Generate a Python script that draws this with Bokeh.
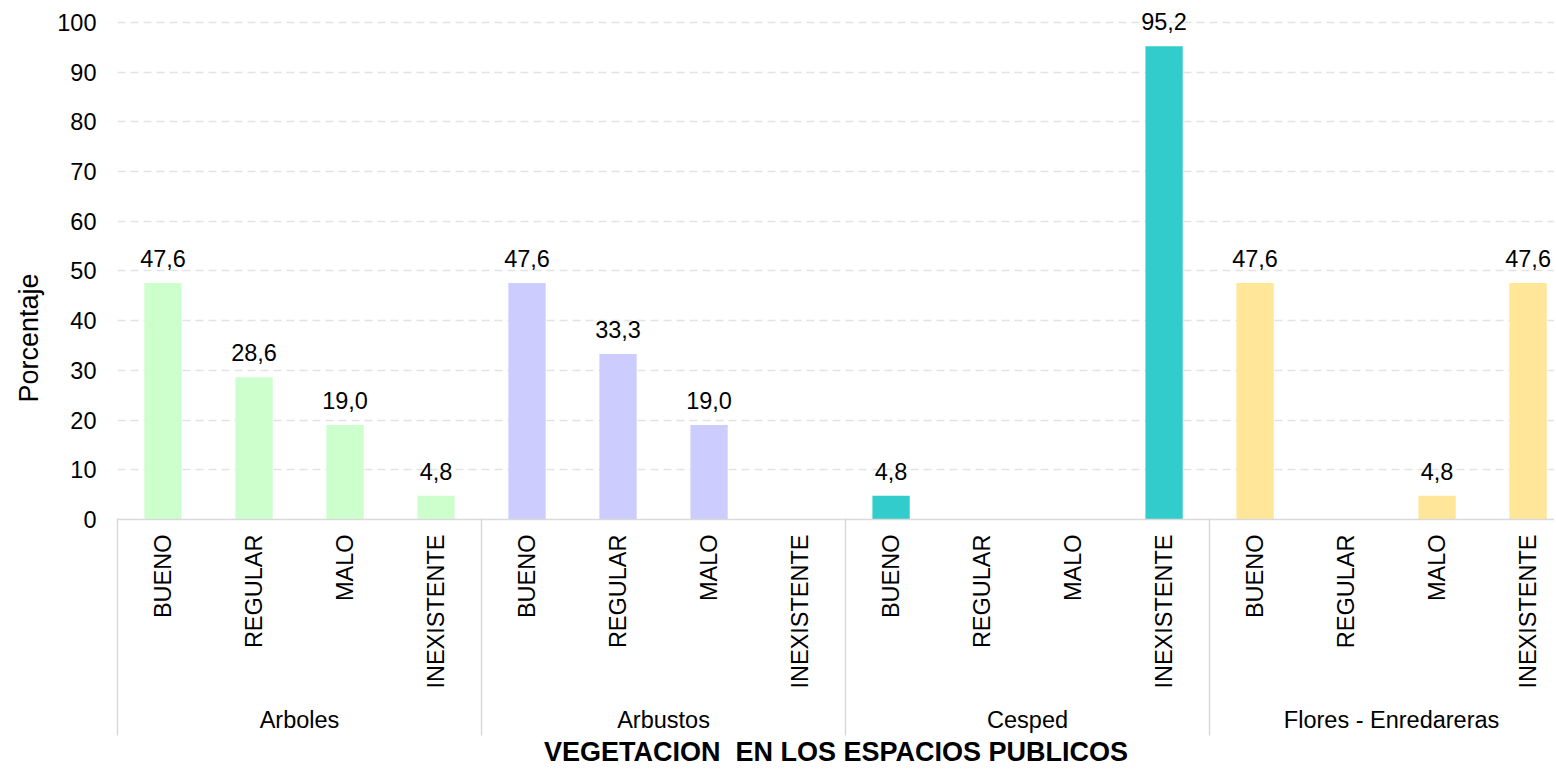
import math
from bokeh.plotting import figure
from bokeh.models import Range1d, LinearAxis, FixedTicker, ColumnDataSource, LabelSet, Title
from bokeh.core.properties import value
from bokeh.embed import file_html
from bokeh.resources import INLINE

groups = ["Arboles", "Arbustos", "Cesped", "Flores - Enredareras"]
states = ["BUENO", "REGULAR", "MALO", "INEXISTENTE"]
arboles = [47.6, 28.6, 19.0, 4.8]
arbustos = [47.6, 33.3, 19.0, 0.0]
cesped = [4.8, 0.0, 0.0, 95.2]
flores = [47.6, 0.0, 4.8, 47.6]
group_colors = ["#CCFFCC", "#CCCCFF", "#33CCCC", "#FFE699"]
y_ticks = list(range(0, 101, 10))
x_title = "VEGETACION \u00a0EN LOS ESPACIOS PUBLICOS"
y_title = "Porcentaje"

FONT = "Liberation Sans"
FS = "23.5px"
FS_TITLE = "27px"
series = [arboles, arbustos, cesped, flores]
n_sub = len(states)

xs, tops, colors, sub_labels = [], [], [], {}
for g, vals in enumerate(series):
    for s, v in enumerate(vals):
        i = g * n_sub + s
        xs.append(i)
        tops.append(v)
        colors.append(group_colors[g])
        sub_labels[i] = states[s]

group_centers = [g * n_sub + (n_sub - 1) / 2 for g in range(len(groups))]
group_bounds = [g * n_sub - 0.5 for g in range(len(groups))]

# y range runs a little above 100 so the value labels are not clipped
p = figure(frame_width=1437, frame_height=512,
           x_range=Range1d(-0.5, 15.29), y_range=Range1d(0, 103),
           x_axis_type=None, output_backend="svg", toolbar_location=None,
           min_border_left=117, min_border_top=7, min_border_right=0,
           min_border_bottom=10)
p.outline_line_color = None
p.background_fill_color = "white"

p.vbar(x=xs, top=tops, width=0.41, bottom=0, fill_color=colors, line_color=None)

lab_x = [x for x, t in zip(xs, tops) if t > 0]
lab_y = [t for t in tops if t > 0]
lab_t = [f"{t:.1f}".replace(".", ",") for t in lab_y]
src = ColumnDataSource(dict(x=lab_x, y=lab_y, t=lab_t))
p.add_layout(LabelSet(x="x", y="y", text="t", source=src, text_align="center",
                      text_baseline="alphabetic", y_offset=16,
                      text_font=value(FONT), text_font_size=value(FS),
                      text_color="#000000"))

yax = p.yaxis[0]
yax.ticker = FixedTicker(ticks=y_ticks)
yax.axis_line_color = None
yax.major_tick_line_color = None
yax.minor_tick_line_color = None
yax.major_label_standoff = 15
yax.major_label_text_font = FONT
yax.major_label_text_font_size = FS
yax.major_label_text_color = "#000000"

# y-axis title, placed lower than the frame centre as in the reference
p.add_layout(Title(text=y_title, align="left", offset=117, standoff=22,
                   text_font=FONT, text_font_size=FS_TITLE,
                   text_font_style="normal", text_color="#000000"), "left")

p.ygrid.ticker = FixedTicker(ticks=y_ticks)
p.ygrid.grid_line_color = "#e3e3e3"
p.ygrid.grid_line_dash = "8 5"
p.ygrid.grid_line_width = 1.5

# sub-category labels
axA = LinearAxis(ticker=FixedTicker(ticks=xs, minor_ticks=[]),
                 major_label_overrides=sub_labels,
                 major_label_orientation=math.pi / 2,
                 major_tick_out=0, major_tick_in=0,
                 major_tick_line_color=None, minor_tick_line_color=None,
                 axis_line_color="#d9d9d9", axis_line_width=1.5,
                 major_label_standoff=15,
                 major_label_text_font=FONT, major_label_text_font_size=FS,
                 major_label_text_color="#000000")
p.add_layout(axA, "below")

# group labels
axB = LinearAxis(ticker=FixedTicker(ticks=group_centers, minor_ticks=[]),
                 major_label_overrides={c: g for c, g in zip(group_centers, groups)},
                 major_tick_out=0, major_tick_in=0,
                 major_tick_line_color=None, minor_tick_line_color=None,
                 axis_line_color=None,
                 major_label_standoff=15,
                 major_label_text_font=FONT, major_label_text_font_size=FS,
                 major_label_text_color="#000000")
p.add_layout(axB, "below")

# group separators (ticks pointing up to the axis line) + axis title
axC = LinearAxis(ticker=FixedTicker(ticks=group_bounds, minor_ticks=[]),
                 major_label_overrides={b: "" for b in group_bounds},
                 major_label_text_font_size="0px",
                 major_label_standoff=0,
                 major_tick_out=0, major_tick_in=217,
                 major_tick_line_color="#d9d9d9", major_tick_line_width=1.5,
                 minor_tick_line_color=None, axis_line_color=None,
                 axis_label=x_title, axis_label_text_font=FONT,
                 axis_label_text_font_size=FS_TITLE, axis_label_text_font_style="bold",
                 axis_label_text_color="#000000", axis_label_standoff=1)
p.add_layout(axC, "below")

open("out.html", "w").write(file_html(p, INLINE))
